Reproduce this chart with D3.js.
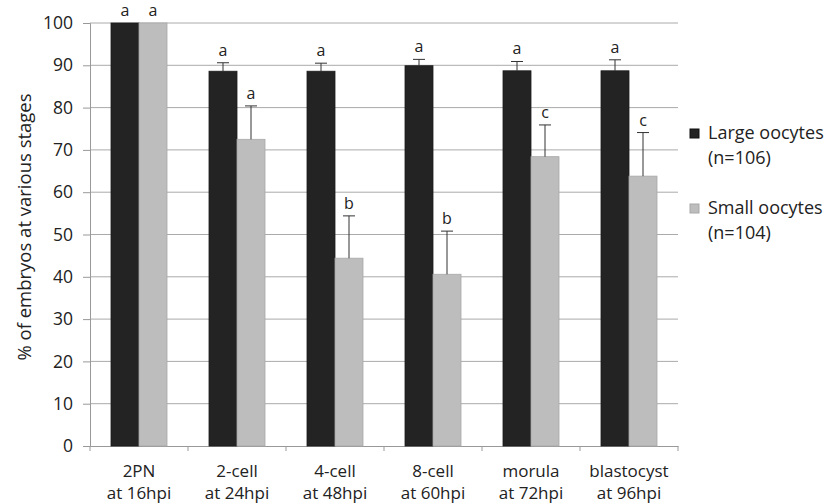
<!DOCTYPE html>
<html>
<head>
<meta charset="utf-8">
<title>Embryo development by oocyte size</title>
<style>
  html, body { margin: 0; background: #fff; }
  svg { display: block; font-family: "Open Sans", sans-serif; }
</style>
<script src="https://cdn.jsdelivr.net/npm/d3@7"></script>
</head>
<body>
<svg id="chart" width="826" height="504"></svg>
<script>
// data
const stages = ["2PN", "2-cell", "4-cell", "8-cell", "morula", "blastocyst"];
const times = ["at 16hpi", "at 24hpi", "at 48hpi", "at 60hpi", "at 72hpi", "at 96hpi"];
const series = ["Large oocytes", "Small oocytes"];
const seriesN = ["(n=106)", "(n=104)"];
const largeVals = [100, 88.6, 88.6, 89.9, 88.7, 88.7];
const largeErr = [0, 2.0, 1.9, 1.5, 2.2, 2.6];
const smallVals = [100, 72.5, 44.4, 40.6, 68.4, 63.8];
const smallErr = [0, 7.9, 10.0, 10.2, 7.5, 10.3];
const largeLetters = ["a", "a", "a", "a", "a", "a"];
const smallLetters = ["a", "a", "b", "b", "c", "c"];
const yTicks = [0, 10, 20, 30, 40, 50, 60, 70, 80, 90, 100];

const colors = ["#232323", "#bdbdbd"];

const svg = d3.select("#chart");
const plotL = 90, plotR = 678, plotT = 23, plotB = 446;

const x0 = d3.scaleBand().domain(stages).range([plotL, plotR]).padding(0);
const x1 = d3.scaleBand().domain(series).range([0, x0.bandwidth()])
  .paddingInner(0).paddingOuter(0.75);
const y = d3.scaleLinear().domain([0, 100]).range([plotB, plotT]);

// gridlines
svg.append("g")
  .selectAll("line")
  .data(yTicks.filter(d => d > 0))
  .enter().append("line")
  .attr("x1", plotL).attr("x2", plotR)
  .attr("y1", d => y(d)).attr("y2", d => y(d))
  .attr("stroke", "#aaa").attr("stroke-width", 1);

// y axis
const yAxis = svg.append("g")
  .attr("transform", "translate(" + plotL + ",0)")
  .call(d3.axisLeft(y).tickValues(yTicks).tickSize(7).tickPadding(10));
yAxis.select(".domain").attr("stroke", "#999");
yAxis.selectAll(".tick line").attr("stroke", "#999");
yAxis.selectAll(".tick text").attr("font-size", "17.5px").attr("fill", "#222")
  .attr("font-family", "Open Sans");

// x axis
const xAxis = svg.append("g")
  .attr("transform", "translate(0," + plotB + ")")
  .call(d3.axisBottom(x0).tickSize(0).tickFormat(""));
xAxis.select(".domain").attr("stroke", "#999");
svg.append("g")
  .selectAll("line")
  .data(stages.concat(["end"]))
  .enter().append("line")
  .attr("x1", (d, i) => plotL + i * x0.step())
  .attr("x2", (d, i) => plotL + i * x0.step())
  .attr("y1", plotB).attr("y2", plotB + 5)
  .attr("stroke", "#999");

const cx = d => x0(d) + x0.bandwidth() / 2;
svg.append("g")
  .selectAll("text")
  .data(stages)
  .enter().append("text")
  .attr("x", cx).attr("y", 477)
  .attr("text-anchor", "middle")
  .attr("font-size", "17px")
  .attr("fill", "#222")
  .text(d => d);
svg.append("g")
  .selectAll("text")
  .data(stages)
  .enter().append("text")
  .attr("x", cx).attr("y", 499)
  .attr("text-anchor", "middle")
  .attr("font-size", "17px")
  .attr("fill", "#222")
  .text((d, i) => times[i]);

// bars
const rows = [];
stages.forEach((s, i) => {
  rows.push({ stage: s, s: series[0], v: largeVals[i], e: largeErr[i], l: largeLetters[i], c: 0 });
  rows.push({ stage: s, s: series[1], v: smallVals[i], e: smallErr[i], l: smallLetters[i], c: 1 });
});

svg.append("g")
  .selectAll("rect")
  .data(rows)
  .enter().append("rect")
  .attr("x", d => x0(d.stage) + x1(d.s))
  .attr("width", x1.bandwidth())
  .attr("y", d => y(d.v))
  .attr("height", d => y(0) - y(d.v))
  .attr("fill", d => colors[d.c])
  .attr("stroke", d => d.c ? "#a8a8a8" : "#1a1a1a")
  .attr("stroke-width", 0.8);

// error bars (upper only)
const eb = svg.append("g").selectAll("g")
  .data(rows.filter(d => d.e > 0))
  .enter().append("g")
  .attr("stroke", "#333").attr("stroke-width", 1);
eb.append("line")
  .attr("x1", d => x0(d.stage) + x1(d.s) + x1.bandwidth() / 2)
  .attr("x2", d => x0(d.stage) + x1(d.s) + x1.bandwidth() / 2)
  .attr("y1", d => y(d.v)).attr("y2", d => y(d.v + d.e));
eb.append("line")
  .attr("x1", d => x0(d.stage) + x1(d.s) + x1.bandwidth() / 2 - 6)
  .attr("x2", d => x0(d.stage) + x1(d.s) + x1.bandwidth() / 2 + 6)
  .attr("y1", d => y(d.v + d.e)).attr("y2", d => y(d.v + d.e));

// significance letters
svg.append("g")
  .selectAll("text")
  .data(rows)
  .enter().append("text")
  .attr("x", d => x0(d.stage) + x1(d.s) + x1.bandwidth() / 2)
  .attr("y", d => y(d.v + d.e) - 7)
  .attr("text-anchor", "middle")
  .attr("font-size", "16px")
  .attr("fill", "#222")
  .text(d => d.l);

// y title
svg.append("text")
  .attr("transform", "translate(31,227) rotate(-90)")
  .attr("text-anchor", "middle")
  .attr("font-size", "18.5px")
  .attr("fill", "#222")
  .text("% of embryos at various stages");

// legend
const legY = [133, 208];
const leg = svg.append("g").selectAll("g")
  .data(series)
  .enter().append("g");
leg.append("rect")
  .attr("x", 690).attr("y", (d, i) => legY[i] - 4)
  .attr("width", 9).attr("height", 9)
  .attr("fill", (d, i) => colors[i])
  .attr("stroke", (d, i) => i ? "#a8a8a8" : "#111");
leg.append("text")
  .attr("x", 708).attr("y", (d, i) => legY[i] + 6)
  .attr("font-size", "18px").attr("fill", "#222")
  .text(d => d);
leg.append("text")
  .attr("x", 708).attr("y", (d, i) => legY[i] + 31)
  .attr("font-size", "18px").attr("fill", "#222")
  .text((d, i) => seriesN[i]);
</script>
</body>
</html>
